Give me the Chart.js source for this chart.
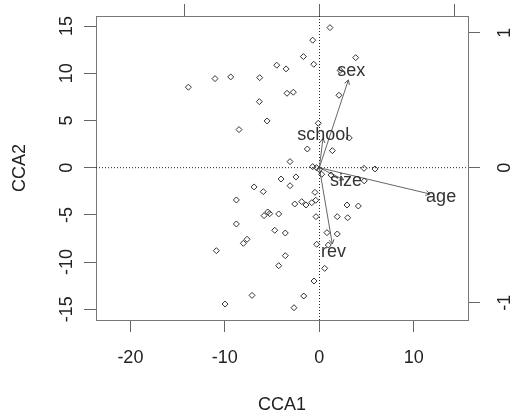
<!DOCTYPE html>
<html>
<head>
<meta charset="utf-8">
<script src="https://cdn.jsdelivr.net/npm/chart.js@4.4.1/dist/chart.umd.min.js"></script>
<style>
  html, body { margin: 0; padding: 0; background: #fff; }
</style>
</head>
<body>
<canvas id="cca" width="511" height="415"></canvas>
<script>
// site scores (CCA1, CCA2)
const siteX = [1.13, -0.70, -1.69, -0.59, 3.85, -4.51, -3.52, -13.86, -11.04, -9.38,
  -6.31, -3.42, -2.75, 2.08, -6.35, -5.53, -8.50, -0.11, 3.17, -1.27,
  1.38, -3.10, 4.73, 5.89, -0.70, 0.25, 4.76, 1.24, -4.05, -2.47,
  -6.91, -5.93, -3.10, -0.46, -8.78, -2.60, -1.86, -1.41, -0.80, -0.38,
  2.93, 4.13, -5.46, -5.25, -5.85, -4.30, -0.35, 1.90, 3.00, -8.78,
  -4.72, -3.60, 0.81, 1.90, -7.65, -8.04, -0.28, 0.95, -10.90, -3.60,
  -4.30, 0.57, -0.56, -7.12, -1.65, -9.98, -2.68, 2.20, -0.30, 0.00];
const siteY = [14.83, 13.50, 11.76, 10.95, 11.65, 10.85, 10.46, 8.52, 9.43, 9.61,
  9.53, 7.88, 7.99, 7.67, 6.99, 4.95, 4.03, 4.70, 3.15, 1.98,
  1.80, 0.64, -0.07, -0.14, 0.11, -0.70, -1.40, -0.77, -1.20, -0.98,
  -2.04, -2.54, -1.91, -2.61, -3.42, -3.85, -3.60, -3.95, -3.71, -3.45,
  -3.95, -4.06, -4.69, -4.87, -5.08, -4.90, -5.19, -5.19, -5.30, -5.96,
  -6.63, -6.92, -6.88, -7.02, -7.58, -8.01, -8.11, -8.19, -8.79, -9.32,
  -10.38, -10.66, -12.00, -13.52, -13.59, -14.44, -14.83, 10.30, 0.00, -0.20];

// biplot arrows (secondary axes)
const envNames = ["sex", "school", "size", "age", "rev"];
const envX = [0.215, 0.027, 0.18, 0.82, 0.096];
const envY = [0.65, 0.217, -0.09, -0.195, -0.565];

const xTicks = [-20, -10, 0, 10];
const yTicks = [-15, -10, -5, 0, 5, 10, 15];
const x2Ticks = [-1, 0, 1];
const y2Ticks = [-1, 0, 1];

const FONT = '18px "Liberation Sans", Arial, sans-serif';

const datasets = [{
  label: "sites",
  data: siteX.map((x, i) => ({ x: x, y: siteY[i] })),
  pointStyle: "rectRot",
  pointRadius: 3,
  pointBorderWidth: 1,
  borderColor: "#333",
  backgroundColor: "rgba(0,0,0,0)",
  xAxisID: "x",
  yAxisID: "y"
}];
envNames.forEach((name, i) => {
  datasets.push({
    label: name,
    data: [{ x: 0, y: 0 }, { x: envX[i], y: envY[i] }],
    showLine: true,
    pointRadius: 0,
    borderWidth: 1,
    borderColor: "#666",
    xAxisID: "x2",
    yAxisID: "y2"
  });
});

function axisOpts(pos, min, max, ticks, size) {
  return {
    type: "linear",
    position: pos,
    min: min,
    max: max,
    afterBuildTicks: s => { s.ticks = ticks.map(v => ({ value: v })); },
    afterFit: s => {
      if (pos === "left" || pos === "right") s.width = size; else s.height = size;
    },
    ticks: { display: false },
    grid: { drawOnChartArea: false, drawTicks: true, tickLength: 12, color: "#666" },
    border: { display: true, color: "#777", width: 1 }
  };
}

const ccaPlugin = {
  id: "ccaPlot",
  beforeDatasetsDraw(chart) {
    const ctx = chart.ctx, a = chart.chartArea;
    const px = Math.round(chart.scales.x.getPixelForValue(0)) + 0.5;
    const py = chart.scales.y.getPixelForValue(0);
    ctx.save();
    ctx.strokeStyle = "#222";
    ctx.lineWidth = 1;
    ctx.setLineDash([1, 2]);
    ctx.beginPath();
    ctx.moveTo(a.left, py); ctx.lineTo(a.right, py);
    ctx.moveTo(px, a.top); ctx.lineTo(px, a.bottom);
    ctx.stroke();
    ctx.restore();
  },
  afterDatasetsDraw(chart) {
    const ctx = chart.ctx;
    const sx = chart.scales.x2, sy = chart.scales.y2;
    ctx.save();
    const ox = sx.getPixelForValue(0), oy = sy.getPixelForValue(0);
    envNames.forEach((name, i) => {
      const tx = sx.getPixelForValue(envX[i]), ty = sy.getPixelForValue(envY[i]);
      const ang = Math.atan2(ty - oy, tx - ox);
      const len = 5;
      ctx.strokeStyle = "#555";
      ctx.lineWidth = 1;
      ctx.beginPath();
      ctx.moveTo(tx - len * Math.cos(ang - Math.PI / 6), ty - len * Math.sin(ang - Math.PI / 6));
      ctx.lineTo(tx, ty);
      ctx.lineTo(tx - len * Math.cos(ang + Math.PI / 6), ty - len * Math.sin(ang + Math.PI / 6));
      ctx.stroke();
    });
    // labels at 1.1 x arrow tips
    ctx.font = FONT;
    ctx.fillStyle = "#333";
    ctx.textAlign = "center";
    ctx.textBaseline = "alphabetic";
    envNames.forEach((name, i) => {
      const lx = sx.getPixelForValue(envX[i] * 1.1), ly = sy.getPixelForValue(envY[i] * 1.1);
      ctx.fillText(name, lx, ly + 5);
    });
    ctx.restore();
  },
  afterDraw(chart) {
    const ctx = chart.ctx, a = chart.chartArea;
    ctx.save();
    ctx.font = FONT;
    ctx.fillStyle = "#222";
    ctx.textAlign = "center";
    ctx.textBaseline = "middle";
    xTicks.forEach(v => ctx.fillText(String(v), chart.scales.x.getPixelForValue(v), 358));
    yTicks.forEach(v => {
      ctx.save();
      ctx.translate(67, chart.scales.y.getPixelForValue(v));
      ctx.rotate(-Math.PI / 2);
      ctx.fillText(String(v), 0, 0);
      ctx.restore();
    });
    y2Ticks.forEach(v => {
      ctx.save();
      ctx.translate(505, chart.scales.y2.getPixelForValue(v));
      ctx.rotate(-Math.PI / 2);
      ctx.fillText(String(v), 0, 0);
      ctx.restore();
    });
    // axis titles
    ctx.fillText("CCA1", (a.left + a.right) / 2, 405);
    ctx.save();
    ctx.translate(20, (a.top + a.bottom) / 2);
    ctx.rotate(-Math.PI / 2);
    ctx.fillText("CCA2", 0, 0);
    ctx.restore();
    ctx.restore();
  }
};

new Chart(document.getElementById("cca"), {
  type: "scatter",
  data: { datasets: datasets },
  options: {
    responsive: false,
    animation: false,
    devicePixelRatio: 1,
    layout: { padding: 0 },
    plugins: { legend: { display: false }, tooltip: { enabled: false }, title: { display: false } },
    scales: {
      x: axisOpts("bottom", -23.64, 15.74, xTicks, 95),
      x2: axisOpts("top", -1.654, 1.101, x2Ticks, 16),
      y: axisOpts("left", -16.13, 16.06, yTicks, 96),
      y2: axisOpts("right", -1.128, 1.1235, y2Ticks, 43)
    }
  },
  plugins: [ccaPlugin]
});
</script>
</body>
</html>
